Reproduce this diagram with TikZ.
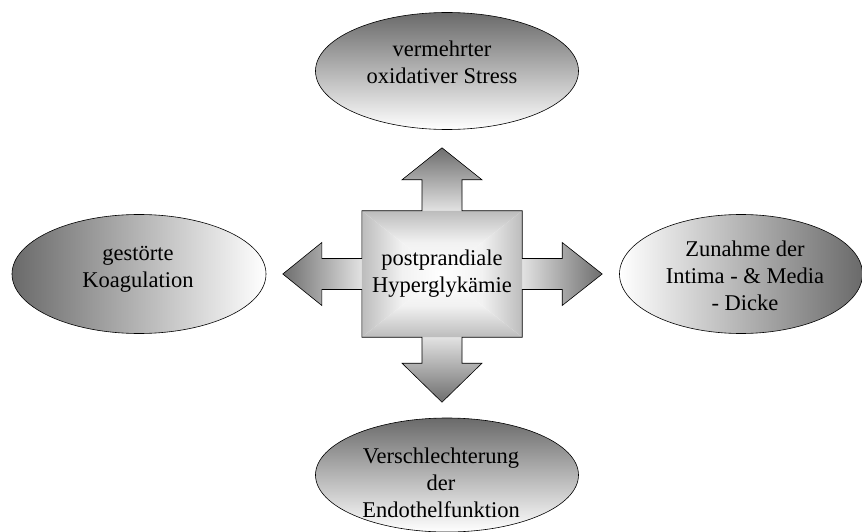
\documentclass[tikz,border=0pt]{standalone}
\usepackage{fontspec}
\setmainfont{Liberation Serif}
\usepackage{xcolor}
\usepackage{tikz}
\usetikzlibrary{calc,shapes.geometric,backgrounds}
\definecolor{ovalDark}{HTML}{6A6A6A}
\definecolor{ovalLight}{HTML}{FFFFFF}
\definecolor{armDark}{HTML}{6E6E6E}
\definecolor{armLight}{HTML}{E2E2E2}
\definecolor{hubEdge}{HTML}{BCBCBC}
\tikzset{
  effectoval/.style={ellipse, draw=black, line width=0.6pt, inner sep=0pt},
  ovaltext/.style={align=center, inner sep=0pt, font=\fontsize{22.5}{27}\selectfont},
  hubbox/.style={rectangle, align=center, inner sep=0pt, minimum width=160pt, minimum height=126pt, font=\fontsize{22.5}{27}\selectfont},
  crossline/.style={draw=black, line width=0.6pt, line join=miter},
}

\begin{document}
\begin{tikzpicture}[x=1pt,y=1pt]
      \useasboundingbox (0,0) rectangle (862,531);

      % hub in the middle, arms built from its anchors
      \node[hubbox] (hyper) at (442,257) {postprandiale\\Hyperglykämie};

      \begin{scope}[on background layer]
        % arms
        \shade[top color=armDark, bottom color=armLight]
          ([xshift=-20pt]hyper.north) -- ++(0,31) -- ++(-20,0) -- ++(40,32) -- ++(40,-32) -- ++(-20,0) -- ++(0,-31) -- cycle;
        \shade[top color=armLight, bottom color=armDark]
          ([xshift=-20pt]hyper.south) -- ++(0,-26) -- ++(-20,0) -- ++(40,-39) -- ++(40,39) -- ++(-20,0) -- ++(0,26) -- cycle;
        \shade[left color=armDark, right color=armLight]
          ([yshift=15.5pt]hyper.west) -- ++(-40,0) -- ++(0,16) -- ++(-39,-31.5) -- ++(39,-31.5) -- ++(0,16) -- ++(40,0) -- cycle;
        \shade[left color=armLight, right color=armDark]
          ([yshift=15.5pt]hyper.east) -- ++(40,0) -- ++(0,16) -- ++(40,-31.5) -- ++(-40,-31.5) -- ++(0,16) -- ++(-40,0) -- cycle;

        % hub: light centre fading out to each side
        \shade[top color=hubEdge, bottom color=white, middle color=hubEdge!20!white] (hyper.center) -- (hyper.north west) -- (hyper.north east) -- cycle;
        \shade[top color=white, bottom color=hubEdge, middle color=hubEdge!20!white] (hyper.center) -- (hyper.south west) -- (hyper.south east) -- cycle;
        \shade[left color=hubEdge, right color=white, middle color=hubEdge!20!white] (hyper.center) -- (hyper.north west) -- (hyper.south west) -- cycle;
        \shade[left color=white, right color=hubEdge, middle color=hubEdge!20!white] (hyper.center) -- (hyper.north east) -- (hyper.south east) -- cycle;

        % one outline round the whole cross
        \draw[crossline] (hyper.north west) -- ([xshift=-20pt]hyper.north) -- ++(0,31) -- ++(-20,0) -- ++(40,32) -- ++(40,-32) -- ++(-20,0) -- ++(0,-31)
          -- (hyper.north east) -- ([yshift=15.5pt]hyper.east) -- ++(40,0) -- ++(0,16) -- ++(40,-31.5) -- ++(-40,-31.5) -- ++(0,16) -- ++(-40,0)
          -- (hyper.south east) -- ([xshift=20pt]hyper.south) -- ++(0,-26) -- ++(20,0) -- ++(-40,-39) -- ++(-40,39) -- ++(20,0) -- ++(0,26)
          -- (hyper.south west) -- ([yshift=-15.5pt]hyper.west) -- ++(-40,0) -- ++(0,-16) -- ++(-39,31.5) -- ++(39,31.5) -- ++(0,-16) -- ++(40,0) -- cycle;
      \end{scope}

      % the four effects
      \node[effectoval, minimum width=263pt, minimum height=117pt, top color=ovalDark, bottom color=ovalLight] (stress) at (447,460) {};
      \node[ovaltext] (stresstext) at (442,469) {vermehrter\\oxidativer Stress};

      \node[effectoval, minimum width=254pt, minimum height=119pt, left color=ovalDark, right color=ovalLight] (coag) at (139,257) {};
      \node[ovaltext] (coagtext) at (138,262) {gestörte\\Koagulation};

      \node[effectoval, minimum width=243pt, minimum height=119pt, left color=ovalLight, right color=ovalDark] (intima) at (741,257) {};
      \node[ovaltext] (intimatext) at (745,255) {Zunahme der\\Intima - \& Media\\- Dicke};

      \node[effectoval, minimum width=263pt, minimum height=114pt, top color=ovalDark, bottom color=ovalLight] (endo) at (447,56) {};
      \node[ovaltext] (endotext) at (441,48) {Verschlechterung\\der\\Endothelfunktion};
    \end{tikzpicture}
\end{document}
